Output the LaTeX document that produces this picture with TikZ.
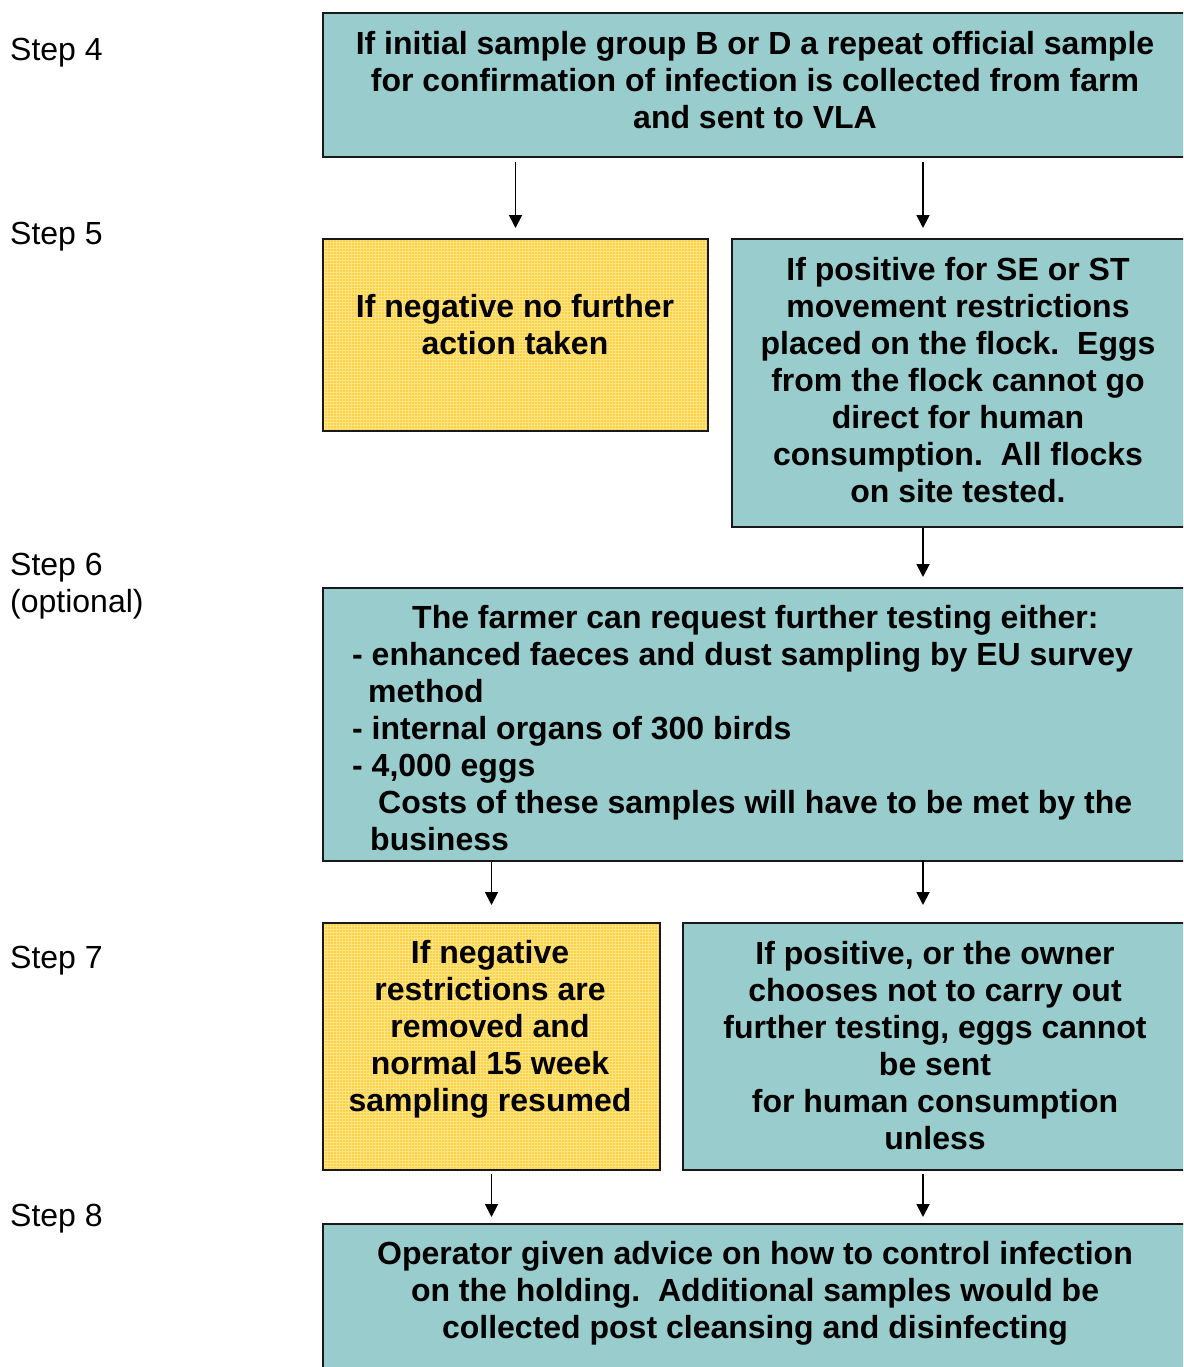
\documentclass[tikz,border=0pt]{standalone}
\usepackage{fontspec}
\setmainfont{Liberation Sans}
\usetikzlibrary{arrows.meta,patterns}
\definecolor{tealbox}{RGB}{153,204,204}
\definecolor{yelbox}{RGB}{253,208,72}
\definecolor{yelgrid}{RGB}{255,228,130}
\definecolor{edge}{RGB}{25,25,25}
\frenchspacing
\begin{document}
\begin{tikzpicture}[x=1pt,y=-1pt,
  box/.style={draw=edge,line width=2pt,rectangle,inner sep=0pt,anchor=north west},
  tealb/.style={box,fill=tealbox},
  yelb/.style={box,preaction={fill=yelbox},pattern=grid,pattern color=yelgrid},
  txt/.style={font=\fontsize{32}{37}\selectfont\bfseries\frenchspacing,align=center,inner sep=0pt},
  steplbl/.style={font=\fontsize{32}{37}\selectfont,align=left,inner sep=0pt,anchor=west},
  arr/.style={line width=1.8pt,-{Triangle[length=13pt,width=13pt]}}]
\useasboundingbox (0,0) rectangle (1183,1367);
\clip (0,0) rectangle (1183,1367);
% boxes
\node[tealb,minimum width=866pt,minimum height=144pt] (b1) at (322,12) {};
\node[yelb,minimum width=385pt,minimum height=192pt] (b2) at (322,238) {};
\node[tealb,minimum width=457pt,minimum height=288pt] (b3) at (731,238) {};
\node[tealb,minimum width=866pt,minimum height=273pt] (b4) at (322,587) {};
\node[yelb,minimum width=337pt,minimum height=247pt] (b5) at (322,922) {};
\node[tealb,minimum width=506pt,minimum height=247pt] (b6) at (682,922) {};
\node[tealb,minimum width=866pt,minimum height=170pt] (b7) at (322,1223) {};
% texts
\node[txt] (t1) at (755,80) {If initial sample group B or D a repeat official sample\\for confirmation of infection is collected from farm\\and sent to VLA};
\node[txt] (t2) at (515,325) {If negative no further\\action taken};
\node[txt] (t3) at (958,380) {If positive for SE or ST\\movement restrictions\\placed on the flock.~ Eggs\\from the flock cannot go\\direct for human\\consumption.~ All flocks\\on site tested.};
\node[txt,align=left,anchor=west] (t4) at (352,728) {\hspace*{60pt}The farmer can request further testing either:\\- enhanced faeces and dust sampling by EU survey\\\hspace*{16pt}method\\- internal organs of 300 birds\\- 4,000 eggs\\\hspace*{26pt}Costs of these samples will have to be met by the\\\hspace*{18pt}business};
\node[txt] (t5) at (490,1029) {If negative\\restrictions are\\removed and\\normal 15 week\\sampling resumed};
\node[txt] (t6) at (935,1046) {If positive, or the owner\\chooses not to carry out\\further testing, eggs cannot\\be sent\\for human consumption\\unless};
\node[txt] (t7) at (755,1293) {Operator given advice on how to control infection\\on the holding.~ Additional samples would be\\collected post cleansing and disinfecting};
% step labels
\node[steplbl] (s4) at (10,53) {Step 4};
\node[steplbl] (s5) at (10,237) {Step 5};
\node[steplbl] (s6) at (10,586) {Step 6\\(optional)};
\node[steplbl] (s7) at (10,961) {Step 7};
\node[steplbl] (s8) at (10,1219) {Step 8};
% arrows
\coordinate (xr) at (923,0);
\coordinate (xl) at (490,0);
\draw[arr,shorten <=4pt,shorten >=10pt] (b1.south -| b2.north) -- (b2.north);
\draw[arr,shorten <=4pt,shorten >=10pt] (b1.south -| xr) -- (b3.north -| xr);
\draw[arr,shorten <=0pt,shorten >=10pt] (b3.south -| xr) -- (b4.north -| xr);
\draw[arr,shorten <=0pt,shorten >=17pt] (b4.south -| b5.north) -- (b5.north);
\draw[arr,shorten <=-2pt,shorten >=17pt] (b4.south -| xr) -- (b6.north -| xr);
\draw[arr,shorten <=3pt,shorten >=6pt] (b5.south) -- (b7.north -| b5.south);
\draw[arr,shorten <=3pt,shorten >=6pt] (b6.south -| xr) -- (b7.north -| xr);
\end{tikzpicture}
\end{document}
